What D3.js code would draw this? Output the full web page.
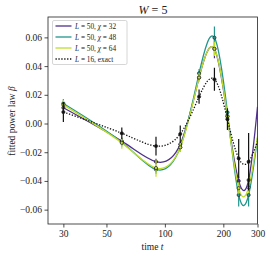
<!DOCTYPE html>
<html><head><meta charset="utf-8">
<script src="https://cdn.jsdelivr.net/npm/d3@7"></script>
<style>body{margin:0;background:#fff}svg{display:block}text{font-family:"Liberation Serif","DejaVu Serif",serif;fill:#222}</style>
</head><body><svg id="c" width="270" height="257"></svg>
<script>
const times = [30, 60, 90, 120, 150, 180, 210, 240, 270];
const tEnd = 300;
const chi32 = [0.011, -0.0123, -0.0266, -0.0145, 0.032, 0.052, 0.005, -0.040, -0.0394];
const chi32End = 0.0117;
const chi32Err = [0.002, 0.002, 0.002, 0.002, 0.002, 0.0065, 0.002, 0.003, 0.003];
const chi48 = [0.014, -0.013, -0.032, -0.0166, 0.035, 0.0598, 0.0078, -0.0498, -0.0498];
const chi48End = -0.010;
const chi48Err = [0.003, 0.003, 0.003, 0.003, 0.003, 0.0077, 0.003, 0.008, 0.008];
const chi64 = [0.013, -0.0135, -0.031, -0.0166, 0.032, 0.052, 0.005, -0.045, -0.0445];
const chi64End = -0.009;
const chi64Err = [0.0035, 0.004, 0.006, 0.003, 0.003, 0.005, 0.003, 0.004, 0.004];
const exact = [0.008, -0.0068, -0.0157, -0.0073, 0.0187, 0.0308, 0.003, -0.0243, -0.0266];
const exactEnd = -0.0125;
const exactErr = [0.007, 0.004, 0.0065, 0.006, 0.005, 0.008, 0.0075, 0.0135, 0.02];
const xTicks = [30, 50, 100, 200, 300];
const yTicks = [-0.06, -0.04, -0.02, 0.0, 0.02, 0.04, 0.06];
const labels = ["L = 50, χ = 32", "L = 50, χ = 48", "L = 50, χ = 64", "L = 16, exact"];

const series = [
  {v: chi32, e: chi32Err, end: chi32End, color: "#4f2f8c", dash: null, black: false},
  {v: chi48, e: chi48Err, end: chi48End, color: "#22958d", dash: null, black: false},
  {v: chi64, e: chi64Err, end: chi64End, color: "#bfdd2a", dash: null, black: false},
  {v: exact, e: exactErr, end: exactEnd, color: "#111", dash: "1.3,1.6", black: true}
];

const L = 48, R = 257.5, T = 17, B = 224;
const svg = d3.select("#c");
const x = d3.scaleLog().domain([25, 300]).range([L, R]);
const y = d3.scaleLinear().domain([-0.0700, 0.0742]).range([B, T]);

const fmt = d => (d < 0 ? "\u2212" : "") + Math.abs(d).toFixed(2);

// axes
const xa = svg.append("g").attr("transform", `translate(0,${B})`)
  .call(d3.axisBottom(x).tickValues(xTicks).tickFormat(d3.format("d")).tickSize(3.5).tickPadding(3));
const ya = svg.append("g").attr("transform", `translate(${L},0)`)
  .call(d3.axisLeft(y).tickValues(yTicks).tickFormat(fmt).tickSize(3.5).tickPadding(2.5));
[xa, ya].forEach(a => {
  a.select(".domain").remove();
  a.selectAll("line").attr("stroke", "#222").attr("stroke-width", 0.8);
  a.selectAll("text").style("font-size", "9.5px").attr("fill", "#222");
});

const line = d3.line().x(d => x(d[0])).y(d => y(d[1])).curve(d3.curveNatural);
const clip = svg.append("clipPath").attr("id", "clp").append("rect")
  .attr("x", L).attr("y", T).attr("width", R - L).attr("height", B - T);
const plot = svg.append("g").attr("clip-path", "url(#clp)");

series.forEach(s => {
  const pts = times.map((t, i) => [t, s.v[i]]).concat([[tEnd, s.end]]);
  plot.append("path").attr("d", line(pts)).attr("fill", "none")
    .attr("stroke", s.color).attr("stroke-width", 1.3)
    .attr("stroke-dasharray", s.dash);
});
series.forEach(s => {
  const g = plot.append("g");
  times.forEach((t, i) => {
    g.append("line").attr("x1", x(t)).attr("x2", x(t))
      .attr("y1", y(s.v[i] - s.e[i])).attr("y2", y(s.v[i] + s.e[i]))
      .attr("stroke", s.color).attr("stroke-width", 1.2);
  });
  times.forEach((t, i) => {
    g.append("circle").attr("cx", x(t)).attr("cy", y(s.v[i])).attr("r", 1.6)
      .attr("fill", s.black ? "#111" : s.color)
      .attr("stroke", "#222").attr("stroke-width", 0.7);
  });
});

// frame
svg.append("rect").attr("x", L).attr("y", T).attr("width", R - L).attr("height", B - T)
  .attr("fill", "none").attr("stroke", "#222").attr("stroke-width", 0.8);

// legend
const lg = svg.append("g");
lg.append("rect").attr("x", 52.5).attr("y", 20.5).attr("width", 74.5).attr("height", 44)
  .attr("rx", 1.5).attr("fill", "#fff").attr("fill-opacity", 0.85)
  .attr("stroke", "#ccc").attr("stroke-width", 0.8);
series.forEach((s, i) => {
  const yy = 26 + i * 11;
  lg.append("line").attr("x1", 55.5).attr("x2", 71.5).attr("y1", yy).attr("y2", yy)
    .attr("stroke", s.color).attr("stroke-width", 1.3).attr("stroke-dasharray", s.dash);
  const parts = labels[i].split(/(L|χ)/).filter(p => p !== "");
  const tx = lg.append("text").attr("x", 75).attr("y", yy + 2.5).style("font-size", "7.3px");
  parts.forEach(p => {
    tx.append("tspan").text(p).style("font-style", (p === "L" || p === "χ") ? "italic" : "normal");
  });
});

// titles
svg.append("text").attr("x", 153).attr("y", 13.5).attr("text-anchor", "middle")
  .style("font-size", "12px")
  .html('<tspan font-style="italic">W</tspan> = 5');
svg.append("text").attr("x", 152.5).attr("y", 250).attr("text-anchor", "middle")
  .style("font-size", "9.5px")
  .html('time <tspan font-style="italic">t</tspan>');
svg.append("text").attr("transform", "translate(14.5,121) rotate(-90)").attr("text-anchor", "middle")
  .style("font-size", "9.5px")
  .html('fitted power law <tspan font-style="italic">β</tspan>');
</script></body></html>
